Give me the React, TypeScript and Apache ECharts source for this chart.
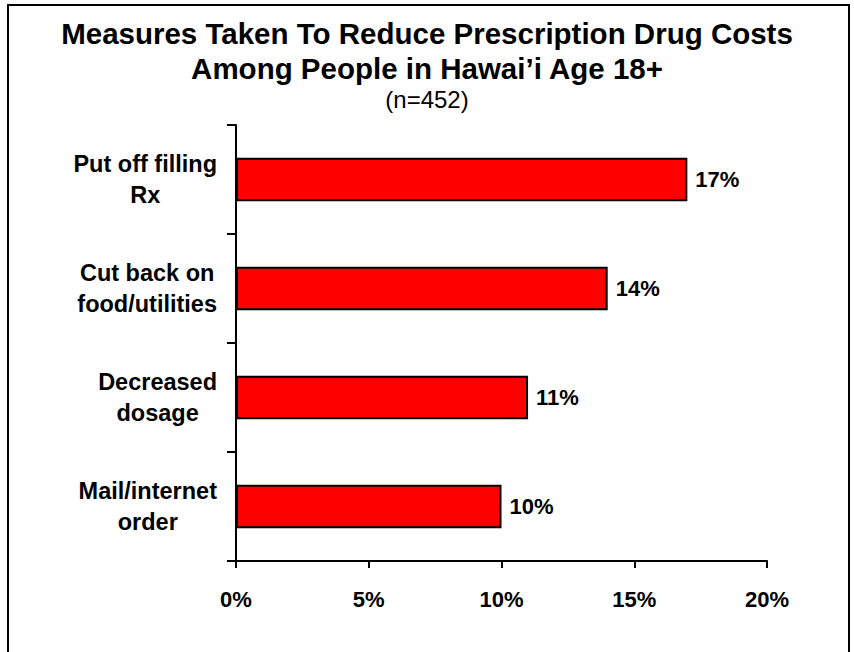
import React, { useEffect, useRef } from "react";
import * as echarts from "echarts";

const categories = ["Put off filling\nRx", "Cut back on\nfood/utilities", "Decreased\ndosage", "Mail/internet\norder"];
const values = [17, 14, 11, 10];
const xTicks = { min: 0, max: 20, interval: 5 };
const titleLines = ["Measures Taken To Reduce Prescription Drug Costs", "Among People in Hawai\u2019i Age 18+"];
const subtitle = "(n=452)";

const FONT = "'Liberation Sans', Arial, sans-serif";

export default function App() {
  const ref = useRef<HTMLDivElement>(null);
  useEffect(() => {
    document.body.style.margin = "0";
    const chart = echarts.init(ref.current!, null, { renderer: "svg" });
    chart.setOption({
      animation: false,
      backgroundColor: "#ffffff",
      textStyle: { fontFamily: FONT },
      title: {
        text: titleLines.join("\n"),
        subtext: subtitle,
        left: "center",
        top: 11,
        itemGap: 0,
        textStyle: { fontFamily: FONT, fontSize: 29.5, fontWeight: "bold", color: "#000", lineHeight: 35 },
        subtextStyle: { fontFamily: FONT, fontSize: 24, color: "#000", lineHeight: 26 },
      },
      graphic: [
        {
          type: "rect",
          shape: { x: 8, y: 5, width: 841, height: 700 },
          style: { fill: "none", stroke: "#000", lineWidth: 2 },
          silent: true,
        },
      ],
      grid: { left: 236, right: 87, top: 125, bottom: 91, containLabel: false },
      xAxis: {
        type: "value",
        min: xTicks.min,
        max: xTicks.max,
        interval: xTicks.interval,
        splitLine: { show: false },
        axisLine: { show: true, lineStyle: { color: "#000", width: 2 } },
        axisTick: { show: true, length: 7, lineStyle: { color: "#000", width: 2 } },
        axisLabel: {
          formatter: "{value}%",
          fontFamily: FONT,
          fontSize: 22,
          fontWeight: "bold",
          color: "#000",
          margin: 27,
        },
      },
      yAxis: {
        type: "category",
        data: categories,
        inverse: true,
        axisLine: { show: true, lineStyle: { color: "#000", width: 2 } },
        axisTick: { show: true, length: 9, alignWithLabel: false, lineStyle: { color: "#000", width: 2 } },
        axisLabel: {
          margin: 19,
          align: "right",
          formatter: (v: string) => v.split("\n").map((l) => `{c|${l}}`).join("\n"),
          rich: {
            c: { align: "center", fontFamily: FONT, fontSize: 23.5, fontWeight: "bold", color: "#000", lineHeight: 31 },
          },
        },
      },
      series: [
        {
          type: "bar",
          data: values,
          barWidth: "40%",
          itemStyle: { color: "#ff0000", borderColor: "#000", borderWidth: 2 },
          label: {
            show: true,
            position: "right",
            distance: 8,
            formatter: "{c}%",
            fontFamily: FONT,
            fontSize: 22,
            fontWeight: "bold",
            color: "#000",
          },
        },
      ],
    });
    return () => chart.dispose();
  }, []);
  return <div ref={ref} style={{ width: 854, height: 652 }} />;
}
